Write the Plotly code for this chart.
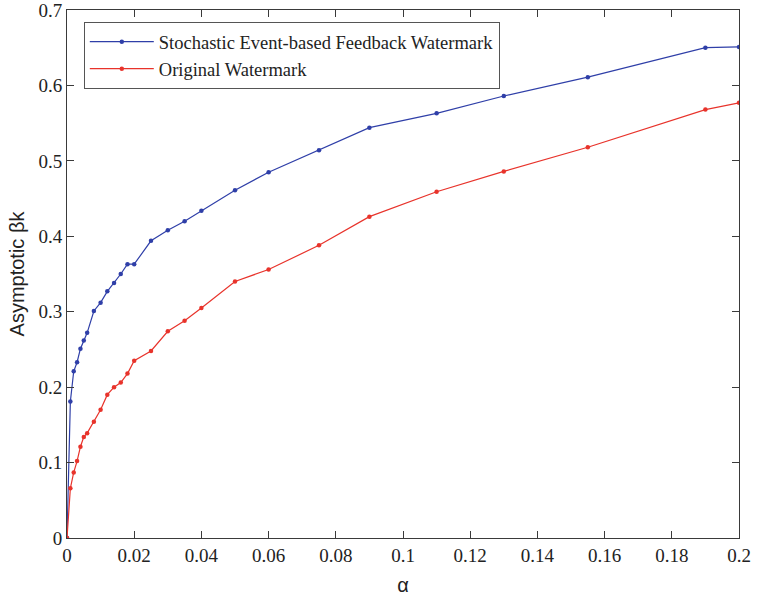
import plotly.graph_objects as go

alpha = [0, 0.001, 0.002, 0.003, 0.004, 0.005, 0.006, 0.008, 0.01, 0.012, 0.014,
         0.016, 0.018, 0.02, 0.025, 0.03, 0.035, 0.04, 0.05, 0.06, 0.075, 0.09,
         0.11, 0.13, 0.155, 0.19, 0.2]
stochastic = [0, 0.181, 0.221, 0.233, 0.251, 0.262, 0.272, 0.301, 0.312, 0.327,
              0.338, 0.350, 0.363, 0.363, 0.394, 0.408, 0.420, 0.434, 0.461,
              0.485, 0.514, 0.544, 0.563, 0.586, 0.611, 0.650, 0.651]
original = [0, 0.066, 0.087, 0.102, 0.121, 0.134, 0.139, 0.154, 0.170, 0.190,
            0.200, 0.206, 0.218, 0.235, 0.248, 0.274, 0.288, 0.305, 0.340,
            0.356, 0.388, 0.426, 0.459, 0.486, 0.518, 0.568, 0.577]
x_ticks = [0, 0.02, 0.04, 0.06, 0.08, 0.1, 0.12, 0.14, 0.16, 0.18, 0.2]
x_labels = ["0", "0.02", "0.04", "0.06", "0.08", "0.1", "0.12", "0.14", "0.16", "0.18", "0.2"]
y_ticks = [0, 0.1, 0.2, 0.3, 0.4, 0.5, 0.6, 0.7]
y_labels = ["0", "0.1", "0.2", "0.3", "0.4", "0.5", "0.6", "0.7"]

blue = "#2F3FA8"
red = "#E8332B"

fig = go.Figure()
fig.add_trace(go.Scatter(x=alpha, y=stochastic, mode="lines+markers",
                         name="Stochastic Event-based Feedback Watermark",
                         line=dict(color=blue, width=1.2),
                         marker=dict(color=blue, size=4.5)))
fig.add_trace(go.Scatter(x=alpha, y=original, mode="lines+markers",
                         name="Original Watermark",
                         line=dict(color=red, width=1.2),
                         marker=dict(color=red, size=4.5)))

axis_common = dict(showgrid=False, zeroline=False, showline=True,
                   linecolor="#3a3a3a", linewidth=1, mirror="ticks",
                   ticks="inside", ticklen=7, tickcolor="#3a3a3a",
                   automargin=False, ticklabeloverflow="allow",
                   tickfont=dict(family="Liberation Serif", size=19, color="#222"))

fig.update_layout(
    width=757, height=603,
    margin=dict(l=67, r=18, t=10, b=65, autoexpand=False),
    paper_bgcolor="white", plot_bgcolor="white",
    xaxis=dict(range=[0, 0.2], tickvals=x_ticks, ticktext=x_labels,
               title=dict(text="α", font=dict(family="Liberation Sans", size=20, color="#222"),
                          standoff=13),
               **axis_common),
    yaxis=dict(range=[0, 0.7], tickvals=y_ticks, ticktext=y_labels,
               title=dict(text="Asymptotic βk", font=dict(family="Liberation Sans", size=20, color="#222"),
                          standoff=8),
               **axis_common),
    legend=dict(x=0.025, y=0.977, xanchor="left", yanchor="top",
                bgcolor="white", bordercolor="#555", borderwidth=1,
                font=dict(family="Liberation Serif", size=18.5, color="#222"),
                tracegroupgap=0, itemwidth=64),
    showlegend=True,
)

fig.write_html("out.html", config={"displayModeBar": False},
               post_script="document.body.style.margin='0';")
